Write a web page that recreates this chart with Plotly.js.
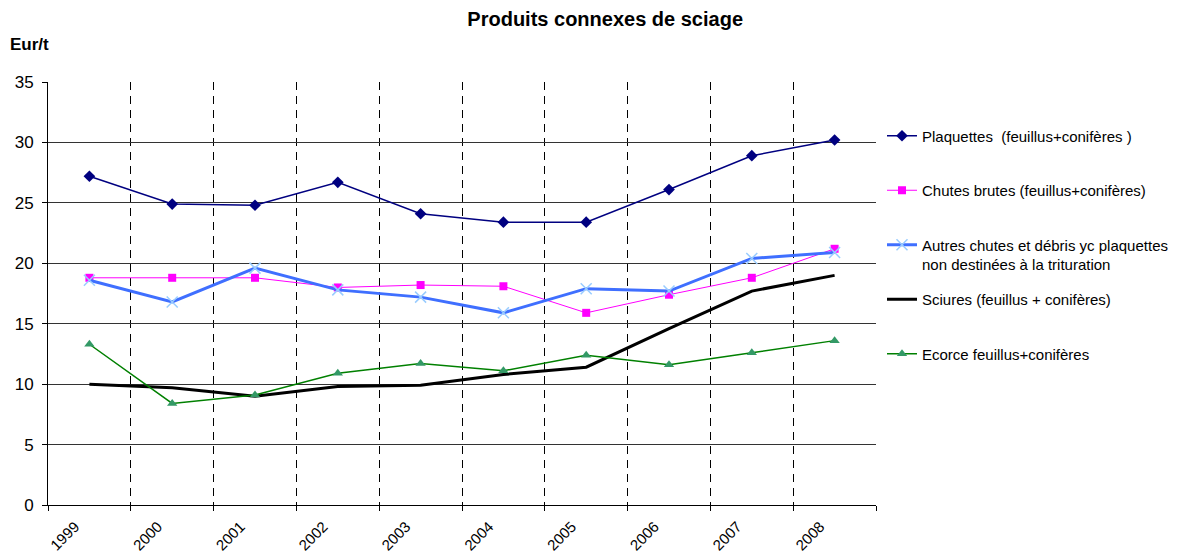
<!DOCTYPE html>
<html>
<head>
<meta charset="utf-8">
<script src="https://cdn.plot.ly/plotly-3.0.1.min.js"></script>
<style>html,body{margin:0;padding:0;background:#fff;}#chart{width:1196px;height:554px;}</style>
</head>
<body>
<div id="chart"></div>
<script>
const years = ["1999","2000","2001","2002","2003","2004","2005","2006","2007","2008"];
const plaquettes = [27.2, 24.9, 24.8, 26.7, 24.1, 23.4, 23.4, 26.1, 28.9, 30.2];
const chutesBrutes = [18.8, 18.8, 18.8, 18.0, 18.2, 18.1, 15.9, 17.4, 18.8, 21.2];
const autresChutes = [18.6, 16.8, 19.6, 17.8, 17.2, 15.9, 17.9, 17.7, 20.4, 20.9];
const sciures = [10.0, 9.7, 9.0, 9.8, 9.9, 10.8, 11.4, 14.6, 17.7, 19.0];
const ecorce = [13.3, 8.4, 9.1, 10.9, 11.7, 11.1, 12.4, 11.6, 12.6, 13.6];
const seriesNames = [
  "Plaquettes  (feuillus+conifères )",
  "Chutes brutes (feuillus+conifères)",
  "Autres chutes et débris yc plaquettes<br>non destinées à la trituration",
  "Sciures (feuillus + conifères)",
  "Ecorce feuillus+conifères"
];

const xs = years.map((y, i) => i + 0.5);
const pad = "<br> ";

const traces = [
  {x: xs, y: plaquettes, name: seriesNames[0] + pad, legendgroup: "a", mode: "lines+markers",
   line: {color: "#000080", width: 1.5}, marker: {symbol: "diamond", size: 9, color: "#000080"}},
  {x: xs, y: chutesBrutes, name: seriesNames[1] + pad, legendgroup: "b", mode: "lines+markers",
   line: {color: "#FF00FF", width: 1}, marker: {symbol: "square", size: 8, color: "#FF00FF"}},
  {x: xs, y: autresChutes, name: seriesNames[2], legendgroup: "c", mode: "lines+markers",
   line: {color: "#3F6FFF", width: 3}, marker: {symbol: "x-thin", size: 11, line: {color: "#99CCFF", width: 1.5}, color: "#99CCFF"}},
  {x: xs, y: sciures, name: seriesNames[3] + pad, legendgroup: "d", mode: "lines",
   line: {color: "#000000", width: 3}},
  {x: xs, y: ecorce, name: seriesNames[4] + pad, legendgroup: "e", mode: "lines+markers",
   line: {color: "#008000", width: 1.5}, marker: {symbol: "triangle-up", size: 9, color: "#339966"}}
];

const tickvals = years.map((y, i) => i).concat([years.length]);
const ticktext = years.concat([""]);

const layout = {
  width: 1196, height: 554,
  margin: {l: 48, r: 320, t: 82, b: 49, autoexpand: false},
  paper_bgcolor: "#fff", plot_bgcolor: "#fff",
  font: {family: "Liberation Sans, Arial, sans-serif", color: "#000", size: 14},
  title: {text: "<b>Produits connexes de sciage</b>", x: 0.506, xref: "container", y: 0.966, yanchor: "middle",
          font: {size: 20, family: "Liberation Sans, Arial, sans-serif", color: "#000"}},
  xaxis: {range: [0, 10], tickmode: "array", tickvals: tickvals, ticktext: ticktext, tickangle: -45,
          ticks: "outside", ticklen: 5, tickcolor: "#000", showline: true, linecolor: "#000", linewidth: 1,
          showgrid: true, gridcolor: "#000", gridwidth: 1, griddash: "8px,6px", zeroline: false,
          ticklabelshift: 27, ticklabelstandoff: 1, tickfont: {size: 15}, fixedrange: true},
  yaxis: {range: [0, 35], tickvals: [0,5,10,15,20,25,30,35], ticks: "outside", ticklen: 5, tickcolor: "#000",
          showline: true, linecolor: "#000", linewidth: 1, showgrid: true, gridcolor: "#333", gridwidth: 1,
          zeroline: false, tickfont: {size: 17}, ticklabelstandoff: 5, fixedrange: true},
  showlegend: true,
  legend: {x: (882 - 48) / 828, xref: "paper", xanchor: "left", y: (505 - 119.5) / 423, yref: "paper", yanchor: "top",
           traceorder: "grouped", tracegroupgap: 12.5, valign: "top",
           font: {size: 15, family: "Liberation Sans, Arial, sans-serif"}, bgcolor: "rgba(0,0,0,0)", itemwidth: 30},
  annotations: [{text: "<b>Eur/t</b>", xref: "paper", yref: "paper", x: -40/828, y: 1 + 37/423,
                 xanchor: "left", yanchor: "middle", showarrow: false, font: {size: 17}}]
};

Plotly.newPlot("chart", traces, layout, {staticPlot: true});
</script>
</body>
</html>
